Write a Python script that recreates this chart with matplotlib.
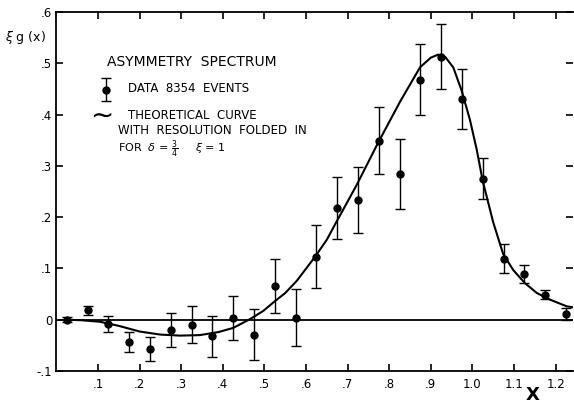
import matplotlib.pyplot as plt
import numpy as np

# measured asymmetry, bin centers
x_data = [0.025, 0.075, 0.125, 0.175, 0.225, 0.275, 0.325, 0.375, 0.425, 0.475,
          0.525, 0.575, 0.625, 0.675, 0.725, 0.775, 0.825, 0.875, 0.925, 0.975,
          1.025, 1.075, 1.125, 1.175, 1.225]
y_data = [0.000, 0.018, -0.008, -0.043, -0.057, -0.020, -0.010, -0.032, 0.003, -0.029,
          0.066, 0.004, 0.123, 0.218, 0.233, 0.349, 0.284, 0.468, 0.513, 0.430,
          0.275, 0.119, 0.089, 0.049, 0.011]
y_err = [0.005, 0.009, 0.016, 0.020, 0.023, 0.034, 0.036, 0.040, 0.043, 0.050,
         0.053, 0.056, 0.061, 0.061, 0.064, 0.065, 0.069, 0.069, 0.064, 0.058,
         0.040, 0.028, 0.017, 0.009, 0.012]

# theoretical curve
x_curve = [0.02, 0.06, 0.105, 0.15, 0.2, 0.25, 0.297, 0.345, 0.39, 0.425, 0.465,
           0.497, 0.525, 0.55, 0.578, 0.622, 0.65, 0.674, 0.722, 0.772, 0.826,
           0.874, 0.9, 0.918, 0.935, 0.954, 0.974, 0.994, 1.01, 1.025, 1.05,
           1.074, 1.098, 1.126, 1.155, 1.187, 1.227, 1.244]
y_curve = [0.0, -0.001, -0.004, -0.012, -0.023, -0.029, -0.031, -0.030, -0.024,
           -0.016, 0.001, 0.017, 0.036, 0.052, 0.076, 0.123, 0.156, 0.192, 0.263,
           0.343, 0.425, 0.492, 0.511, 0.517, 0.512, 0.492, 0.447, 0.39, 0.333,
           0.27, 0.19, 0.128, 0.097, 0.0715, 0.052, 0.039, 0.026, 0.024]

x_ticks = [0.1, 0.2, 0.3, 0.4, 0.5, 0.6, 0.7, 0.8, 0.9, 1.0, 1.1, 1.2]
x_labels = ['.1', '.2', '.3', '.4', '.5', '.6', '.7', '.8', '.9', '1.0', '1.1', '1.2']
y_ticks = [-0.1, 0.0, 0.1, 0.2, 0.3, 0.4, 0.5, 0.6]
y_labels = ['-.1', '0', '.1', '.2', '.3', '.4', '.5', '.6']

fig = plt.figure(figsize=(5.74, 4.09), dpi=100)
ax = fig.add_axes([56.4 / 574, 1 - 371 / 409, (573 - 56.4) / 574, 359 / 409])

ax.axhline(0, color='black', lw=1.3, zorder=1)
ax.plot(x_curve, y_curve, color='black', lw=1.5, zorder=2)
ax.errorbar(x_data, y_data, yerr=y_err, fmt='o', color='black', ms=5,
            elinewidth=1.0, capsize=3.5, capthick=1.0, zorder=3)

ax.set_xlim(0, 1.2418)
ax.set_ylim(-0.1, 0.6)
ax.set_xticks(x_ticks)
ax.set_xticklabels(x_labels)
ax.set_yticks(y_ticks)
ax.set_yticklabels(y_labels)
ax.spines['right'].set_visible(False)
for s in ['left', 'bottom', 'top']:
    ax.spines[s].set_linewidth(1.3)
ax.tick_params(axis='x', direction='in', top=True, length=5, width=1.2,
               labelsize=8.5, pad=5)
ax.tick_params(axis='y', direction='in', right=True, length=5, width=1.2,
               labelsize=8.5, pad=3)

# legend block
ax.text(0.098, 0.861, 'ASYMMETRY  SPECTRUM', transform=ax.transAxes,
        fontsize=10, va='center', ha='left')
ax.errorbar([0.096], [0.783], yerr=[0.032], fmt='o', color='black', ms=5,
            elinewidth=1.0, capsize=3.5, capthick=1.0, transform=ax.transAxes)
ax.text(0.139, 0.786, 'DATA  8354  EVENTS', transform=ax.transAxes,
        fontsize=8.5, va='center', ha='left')
ax.text(0.088, 0.713, '∼', transform=ax.transAxes, fontsize=20,
        va='center', ha='center')
ax.text(0.139, 0.713, 'THEORETICAL  CURVE', transform=ax.transAxes,
        fontsize=8.5, va='center', ha='left')
ax.text(0.119, 0.670, 'WITH  RESOLUTION  FOLDED  IN', transform=ax.transAxes,
        fontsize=8.5, va='center', ha='left')
ax.text(0.119, 0.617, r'FOR  $\delta$ = $\frac{3}{4}$     $\xi$ = 1',
        transform=ax.transAxes, fontsize=8, va='center', ha='left')

fig.text(5 / 574, 1 - 37 / 409, r'$\xi$ g (x)', fontsize=9, va='center', ha='left')
fig.text(533 / 574, 1 - 395 / 409, 'X', fontsize=13, fontweight='bold',
         va='center', ha='center')

fig.savefig('out.png', dpi=100)
